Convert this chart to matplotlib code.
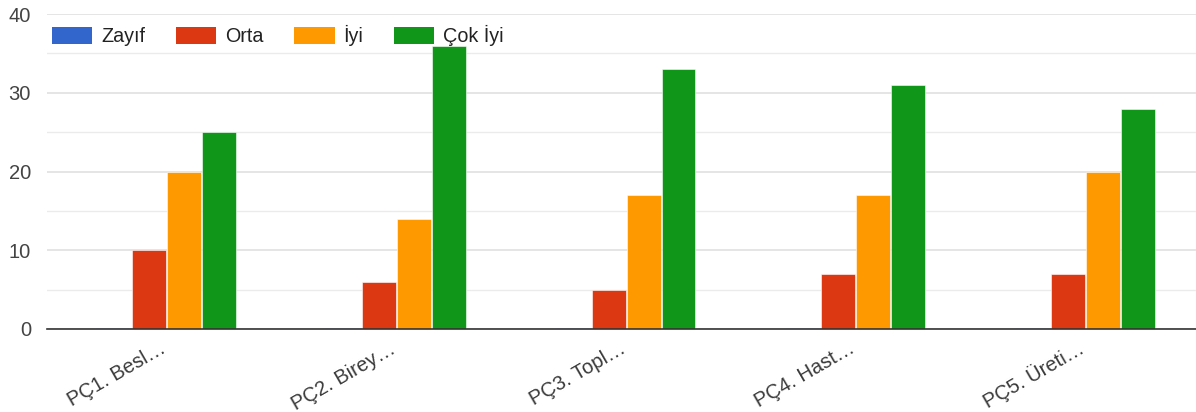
import matplotlib
matplotlib.use("Agg")
import matplotlib.pyplot as plt
import matplotlib.transforms as mtransforms
from matplotlib.patches import Patch
import numpy as np

plt.rcParams['font.family'] = ['Liberation Sans', 'DejaVu Sans']

categories = ["PÇ1. Besl…", "PÇ2. Birey…", "PÇ3. Topl…", "PÇ4. Hast…", "PÇ5. Üreti…"]
series_names = ["Zayıf", "Orta", "İyi", "Çok İyi"]
zayif = [0, 0, 0, 0, 0]
orta = [10, 6, 5, 7, 7]
iyi = [20, 14, 17, 17, 20]
cok_iyi = [25, 36, 33, 31, 28]
colors = ["#3366cc", "#dc3912", "#ff9900", "#109618"]

series = [zayif, orta, iyi, cok_iyi]

W, H = 1196, 412
fig = plt.figure(figsize=(W / 100, H / 100), dpi=100)
ax = fig.add_axes([47 / W, 83 / H, 1 - 47 / W, (329 - 14) / H])

FS = 14.5

x = np.arange(len(categories))
bw = 0.152
offsets = (np.arange(len(series)) - 1.5) * bw + 0.02
for vals, off, c in zip(series, offsets, colors):
    ax.bar(x + off, vals, width=bw * 0.97, color=c, edgecolor="#ffffff",
           linewidth=0.4, zorder=3)
    # zero-height bars still leave a faint baseline mark
    for xi, v in zip(x + off, vals):
        if v == 0:
            ax.plot([xi - bw / 2, xi + bw / 2], [0, 0], color="#c9d6ee",
                    lw=1.2, zorder=3)

ax.set_xlim(-0.5, len(categories) - 0.5)
ax.set_ylim(0, 40)
ax.set_yticks([0, 10, 20, 30, 40])
ax.set_yticks([5, 15, 25, 35], minor=True)
ax.grid(axis="y", which="major", color="#e0e0e0", lw=1.2, zorder=0)
ax.grid(axis="y", which="minor", color="#ebebeb", lw=1.0, zorder=0)
ax.tick_params(axis="y", which="both", length=0, labelsize=FS, labelcolor="#444444", pad=11.5)
ax.tick_params(axis="x", length=0, labelsize=FS, labelcolor="#3a3a3a", pad=16.5)
ax.set_xticks(x)
ax.set_xticklabels(categories, rotation=30, ha="right", va="baseline",
                   rotation_mode="anchor")
shift = mtransforms.ScaledTranslation(5 / 100, 0, fig.dpi_scale_trans)
for lbl in ax.get_xticklabels():
    lbl.set_transform(lbl.get_transform() + shift)

for s in ["top", "right", "left"]:
    ax.spines[s].set_visible(False)
ax.spines["bottom"].set_color("#333333")
ax.spines["bottom"].set_linewidth(1.2)
ax.spines["bottom"].set_zorder(4)

handles = [Patch(facecolor=c, edgecolor="none") for c in colors]
leg = ax.legend(handles, series_names, loc="center left",
                bbox_to_anchor=(5 / 1149, 1 - 21.5 / 315),
                ncol=4, frameon=False, fontsize=14.2, handlelength=2.05,
                handleheight=0.97, handletextpad=0.45, columnspacing=1.55,
                borderaxespad=0.0, borderpad=0.0)
for t in leg.get_texts():
    t.set_color("#222222")

fig.savefig("out.png", dpi=100, facecolor="white")
